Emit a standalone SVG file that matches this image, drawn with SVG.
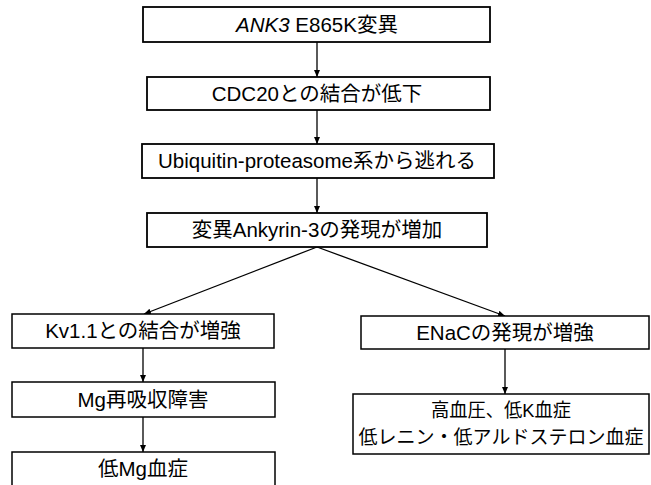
<svg xmlns="http://www.w3.org/2000/svg" width="651" height="485" viewBox="0 0 651 485">
<style>
  .box { fill: #fff; stroke: #000; stroke-width: 1.8; }
  .box2 { fill: #fff; stroke: #000; stroke-width: 1.5; }
  .t { font-family: "Liberation Sans", "Noto Sans CJK JP", sans-serif; font-size: 20.5px; fill: #000; text-anchor: middle; }
  .t2 { font-family: "Liberation Sans", "Noto Sans CJK JP", sans-serif; font-size: 19px; fill: #000; text-anchor: middle; }
  .c { stroke: #000; stroke-width: 1.3; fill: none; marker-end: url(#ah); }
</style>
<defs>
  <marker id="ah" markerWidth="8" markerHeight="8" refX="7" refY="4" orient="auto" markerUnits="userSpaceOnUse">
    <path d="M0,1 L7,4 L0,7 Z" fill="#000"/>
  </marker>
</defs>
<rect width="651" height="485" fill="#fff"/>
<g id="connectors">
  <line class="c" x1="317" y1="42" x2="317" y2="77"/>
  <line class="c" x1="317" y1="110" x2="317" y2="144"/>
  <line class="c" x1="317" y1="178" x2="317" y2="213"/>
  <line class="c" x1="317" y1="247" x2="144" y2="314"/>
  <line class="c" x1="317" y1="247" x2="505" y2="316"/>
  <line class="c" x1="143" y1="348" x2="143" y2="382"/>
  <line class="c" x1="143" y1="417" x2="143" y2="452"/>
  <line class="c" x1="505" y1="349" x2="505" y2="394"/>
</g>
<g id="n1">
  <rect class="box" x="143" y="7" width="347" height="35"/>
  <text class="t" x="317" y="31.5"><tspan font-style="italic">ANK3</tspan> E865K変異</text>
</g>
<g id="n2">
  <rect class="box" x="147" y="77" width="343" height="33"/>
  <text class="t" x="317" y="100.5">CDC20との結合が低下</text>
</g>
<g id="n3">
  <rect class="box" x="142" y="144" width="352" height="34"/>
  <text class="t" x="317" y="168">Ubiquitin-proteasome系から逃れる</text>
</g>
<g id="n4">
  <rect class="box" x="147" y="213" width="340" height="34"/>
  <text class="t" x="317" y="237">変異Ankyrin-3の発現が増加</text>
</g>
<g id="n5">
  <rect class="box2" x="12" y="314" width="262" height="34"/>
  <text class="t" x="143" y="338">Kv1.1との結合が増強</text>
</g>
<g id="n6">
  <rect class="box2" x="12" y="382" width="263" height="35"/>
  <text class="t" x="143" y="406.5">Mg再吸収障害</text>
</g>
<g id="n7">
  <rect class="box2" x="12" y="452" width="263" height="40"/>
  <text class="t" x="143" y="476">低Mg血症</text>
</g>
<g id="n8">
  <rect class="box2" x="361" y="316" width="288" height="33"/>
  <text class="t" x="505" y="339.5">ENaCの発現が増強</text>
</g>
<g id="n9">
  <rect class="box2" x="353" y="394" width="296" height="60"/>
  <text class="t2" x="501" y="416.5" textLength="140" lengthAdjust="spacingAndGlyphs">高血圧、低K血症</text>
  <text class="t2" x="501" y="444">低レニン・低アルドステロン血症</text>
</g>
</svg>
